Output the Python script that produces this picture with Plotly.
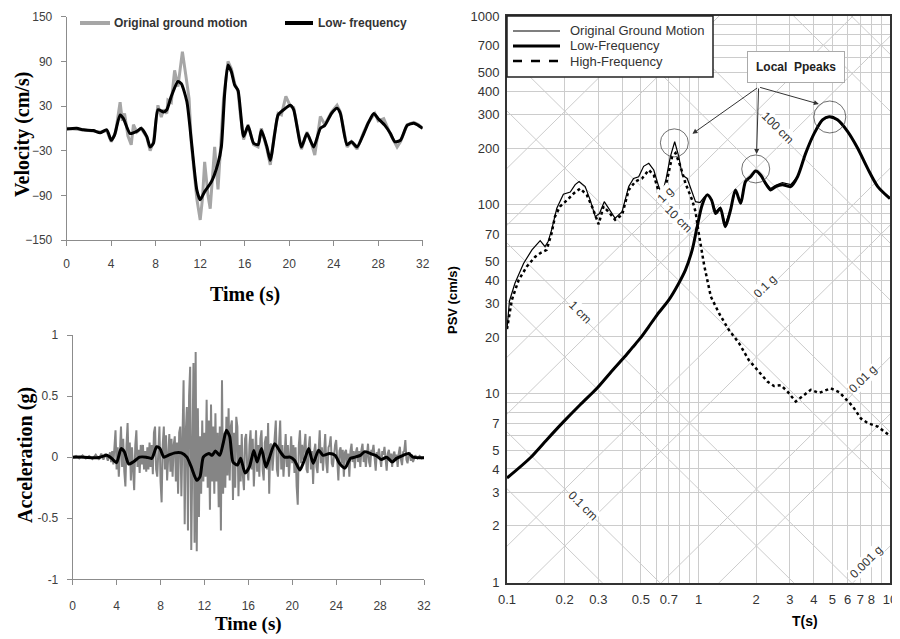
import math
import plotly.graph_objects as go

# ---------------- Velocity time history ----------------
vel_t_orig = [0, 1, 2, 3, 3.6, 4.0, 4.4, 4.8, 5.0, 5.2, 5.5, 5.8, 6.0, 6.3, 6.7, 7.2, 7.5, 7.8, 8.2, 8.5,
              8.7, 9.0, 9.1, 9.4, 9.7, 10.0, 10.4, 10.7, 11.0, 11.2, 11.5, 11.7, 12.0, 12.2, 12.4, 12.7,
              12.9, 13.1, 13.3, 13.6, 13.8, 14.1, 14.5, 14.8, 15.1, 15.4, 15.6, 15.9, 16.3, 16.8, 17.2,
              17.5, 18.0, 18.3, 18.7, 19.0, 19.3, 19.7, 20.1, 20.4, 21.1, 21.6, 22.0, 22.3, 22.8, 23.2,
              23.8, 24.3, 24.6, 25.2, 25.6, 26.1, 26.7, 27.1, 27.7, 28.0, 28.5, 29.1, 29.7, 30.0, 30.6,
              31.2, 31.6, 32]
vel_orig = [0, -1, -3, -5, -3, -18, -5, 35, 10, 20, -10, -22, 5, -5, 0, -12, -30, -18, 31, 15,
            25, 20, 38, 35, 78, 56, 103, 72, 40, -20, -70, -95, -123, -95, -45, -90,
            -108, -60, -25, -82, -30, 40, 90, 80, 60, 50, 20, -15, 5, -22, -25,
            0, -28, -49, -5, 20, 18, 43, 30, 28, -28, -5, -20, -36, 16, 5,
            22, 31, 22, -25, -18, -28, -5, 8, 20, 10, 13, -8, -25, -18, 5,
            8, 5, 0]

vel_t_low = [0, 0.9, 1.5, 2.4, 3.0, 3.6, 4.0, 4.3, 4.8, 5.1, 5.7, 6.3, 6.7, 7.2, 7.5, 7.8, 8.2, 8.7,
             9.0, 9.4, 10.0, 10.3, 10.8, 11.2, 11.7, 12.0, 12.4, 13.0, 13.6, 13.9, 14.2, 14.5, 14.8,
             15.1, 15.4, 15.9, 16.3, 16.8, 17.2, 17.5, 18.0, 18.3, 18.7, 19.0, 19.5, 20.1, 20.4, 21.1,
             21.6, 22.2, 22.8, 23.2, 23.8, 24.3, 24.6, 25.2, 25.6, 26.1, 26.7, 27.1, 27.6, 28.0, 28.6,
             29.1, 29.5, 30.0, 30.6, 31.2, 31.6, 32]
vel_low = [-1, 0, -2, -3, -6, -2, -16, -9, 18, 13, -7, -4, 0, -11, -25, -20, 25, 22,
           25, 43, 63, 60, 36, -16, -83, -96, -85, -72, -47, -25, 47, 85, 76,
           58, 51, -11, 3, -20, -22, -3, -25, -43, -7, 18, 25, 31, 25, -25,
           -7, -25, 0, 4, 20, 27, 20, -22, -18, -25, -7, 7, 20, 13, 4,
           -7, -18, -16, 4, 7, 4, 0]

# ---------------- Acceleration time history ----------------
acc_t_orig = [0, 0.3, 0.6, 0.9, 1.2, 1.5, 1.8, 2.1, 2.4, 2.6, 2.8, 3.0, 3.2, 3.4,
              3.5, 3.6, 3.7, 3.8, 3.9, 4.0, 4.1, 4.2, 4.3, 4.4, 4.5, 4.6, 4.7, 4.8, 4.9,
              5.0, 5.1, 5.2, 5.3, 5.4, 5.5, 5.6, 5.7, 5.8, 5.9, 6.0, 6.1, 6.2, 6.3, 6.4,
              6.5, 6.6, 6.7, 6.8, 6.9, 7.0, 7.1, 7.2, 7.3, 7.4, 7.5, 7.6, 7.7, 7.8, 7.9,
              8.0, 8.1, 8.2, 8.3, 8.4, 8.5, 8.6, 8.7, 8.8, 8.9, 9.0, 9.1, 9.2, 9.3, 9.4,
              9.5, 9.6, 9.7, 9.8, 9.9, 10.0, 10.1, 10.2, 10.3, 10.4, 10.5, 10.6, 10.7, 10.8, 10.9,
              11.0, 11.1, 11.2, 11.3, 11.4, 11.5, 11.6, 11.7, 11.8, 11.9, 12.0, 12.1, 12.2, 12.3, 12.4,
              12.5, 12.6, 12.7, 12.8, 12.9, 13.0, 13.1, 13.2, 13.3, 13.4, 13.5, 13.6, 13.7, 13.8, 13.9,
              14.0, 14.1, 14.2, 14.3, 14.4, 14.5, 14.6, 14.7, 14.8, 14.9, 15.0, 15.1, 15.2, 15.3, 15.4,
              15.5, 15.6, 15.7, 15.8, 15.9, 16.0, 16.1, 16.2, 16.3, 16.4, 16.5, 16.6, 16.7, 16.8, 16.9,
              17.0, 17.1, 17.2, 17.3, 17.4, 17.5, 17.6, 17.7, 17.8, 17.9, 18.0, 18.1, 18.2, 18.3, 18.4,
              18.5, 18.6, 18.7, 18.8, 18.9, 19.0, 19.1, 19.2, 19.3, 19.4, 19.5, 19.6, 19.7, 19.8, 19.9,
              20.0, 20.1, 20.2, 20.3, 20.4, 20.5, 20.6, 20.7, 20.8, 20.9, 21.0, 21.1, 21.2, 21.3, 21.4,
              21.5, 21.6, 21.7, 21.8, 21.9, 22.0, 22.1, 22.2, 22.3, 22.4, 22.5, 22.6, 22.7, 22.8, 22.9,
              23.0, 23.1, 23.2, 23.3, 23.4, 23.5, 23.6, 23.7, 23.8, 23.9, 24.0, 24.1, 24.2, 24.3, 24.4,
              24.5, 24.6, 24.7, 24.8, 24.9, 25.0, 25.1, 25.2, 25.3, 25.4, 25.5, 25.6, 25.7, 25.8, 25.9,
              26.0, 26.1, 26.2, 26.3, 26.4, 26.5, 26.6, 26.7, 26.8, 26.9, 27.0, 27.1, 27.2, 27.3, 27.4,
              27.5, 27.6, 27.7, 27.8, 27.9, 28.0, 28.1, 28.2, 28.3, 28.4, 28.5, 28.6, 28.7, 28.8, 28.9,
              29.0, 29.1, 29.2, 29.3, 29.4, 29.5, 29.6, 29.7, 29.8, 29.9, 30.0, 30.1, 30.2, 30.3, 30.4,
              30.5, 30.6, 30.7, 30.8, 30.9, 31.0, 31.2, 31.4, 31.6, 31.8, 32.0]
acc_orig = [0, 0.01, -0.01, 0.015, -0.01, 0.01, -0.015, 0.02, -0.02, 0.03, -0.02, 0.03, -0.03, 0.04,
            -0.04, 0.05, -0.06, 0.12, 0.22, -0.1, 0.08, -0.16, 0.1, 0.25, -0.08, 0.15, -0.12, -0.24, 0.1,
            0.28, -0.05, 0.12, -0.19, 0.08, -0.1, -0.27, 0.1, 0.22, -0.08, 0.06, -0.13, 0.1, -0.06, 0.1,
            -0.1, 0.05, -0.12, 0.08, -0.1, 0.12, -0.08, 0.1, -0.14, 0.2, 0.25, -0.1, -0.16, 0.15, 0.25,
            -0.2, -0.37, 0.1, 0.25, -0.1, 0.18, -0.19, 0.05, 0.19, -0.12, 0.15, -0.16, 0.1, 0.17, -0.2,
            0.12, -0.30, 0.2, 0.25, -0.32, 0.3, 0.63, -0.55, 0.2, 0.41, -0.6, 0.5, 0.74, -0.76, 0.3,
            0.77, -0.7, 0.86, -0.77, 0.4, -0.49, 0.17, -0.30, 0.30, -0.2, 0.2, -0.16, 0.47, -0.25, 0.3,
            -0.43, 0.43, -0.2, 0.25, -0.3, 0.36, -0.2, 0.2, -0.41, 0.25, -0.6, 0.63, -0.3, 0.2, -0.25,
            0.33, -0.15, 0.4, -0.19, 0.25, 0.30, -0.35, 0.2, -0.25, 0.33, 0.25, -0.32, 0.1, -0.2, 0.19,
            -0.15, -0.27, 0.15, 0.19, -0.1, -0.19, 0.1, 0.22, -0.1, 0.15, -0.24, 0.1, 0.22, -0.12, 0.1,
            -0.16, 0.15, 0.22, -0.1, -0.19, 0.12, 0.17, -0.1, 0.28, -0.3, 0.1, 0.11, -0.11, 0.05, 0.2,
            0.30, -0.1, -0.16, 0.12, 0.30, -0.1, 0.1, -0.16, 0.08, 0.19, -0.08, 0.1, -0.16, 0.05, 0.17,
            -0.05, 0.1, -0.13, 0.08, -0.24, -0.39, 0.1, 0.22, -0.05, 0.1, -0.02, 0.1, 0.19, -0.1, -0.13,
            0.08, 0.17, -0.1, 0.05, -0.22, 0.05, 0.11, -0.08, -0.13, 0.12, 0.22, -0.05, 0.08, -0.11, 0.1,
            0.19, -0.05, -0.13, 0.08, 0.1, 0.17, -0.05, -0.08, 0.05, 0.1, 0.14, -0.08, -0.19, 0.05, 0.08,
            -0.05, 0.06, -0.16, 0.04, 0.06, -0.08, 0.03, -0.16, 0.05, 0.11, -0.04, 0.05, -0.09, 0.04, 0.08,
            -0.04, 0.05, -0.08, 0.06, 0.11, -0.04, 0.05, -0.08, 0.05, 0.11, -0.04, -0.08, 0.06, 0.04, 0.10,
            -0.04, -0.11, 0.04, 0.02, 0.07, -0.03, -0.08, 0.05, 0.02, 0.085, -0.04, -0.11, 0.03, 0.06, -0.02,
            0.03, -0.08, 0.02, 0.045, -0.03, 0.02, -0.08, 0.03, 0.085, -0.02, -0.065, 0.04, 0.05, 0.14, -0.02,
            -0.05, 0.02, 0.04, -0.03, 0.02, -0.04, 0.015, -0.01, 0.01, -0.01, 0]

acc_t_low = [0, 1, 1.9, 2.5, 3.1, 3.55, 4.0, 4.4, 4.7, 5.1, 5.5, 6.1, 6.7, 7.2, 7.65, 7.95, 8.3, 8.7,
             9.3, 9.9, 10.4, 10.8, 11.3, 11.6, 11.9, 12.4, 12.7, 13.0, 13.4, 13.7, 14.0, 14.3, 14.6,
             15.0, 15.3, 15.7, 16.1, 16.5, 16.8, 17.2, 17.6, 17.9, 18.4, 18.9, 19.3, 19.8, 20.2, 20.7,
             21.2, 21.5, 21.9, 22.4, 22.8, 23.4, 23.9, 24.3, 24.8, 25.3, 25.7, 26.2, 26.6, 27.1, 27.7,
             28.1, 28.6, 29.1, 29.5, 30.1, 30.6, 31.0, 32]
acc_low = [0, 0, -0.005, 0, 0.015, -0.01, -0.045, 0.07, 0.045, -0.057, -0.04, 0, 0, -0.01, 0.085, 0.07,
           0, 0.015, 0.035, 0.035, 0, -0.08, -0.19, -0.16, 0, 0.03, 0.015, 0.05, 0.015, 0.11, 0.22,
           0.17, -0.04, -0.065, -0.01, -0.13, -0.08, 0.055, -0.04, 0.07, -0.08, -0.01, 0.11, 0.045, 0,
           0, -0.025, -0.105, 0, 0.07, -0.05, 0.057, 0.015, 0.03, 0.015, -0.05, -0.09, -0.01, 0, 0.015,
           0.045, 0.03, 0.01, -0.02, 0, -0.04, -0.01, 0.015, 0.03, 0, -0.005]

# ---------------- Pseudo-velocity spectra ----------------
psv_T_orig = [0.100, 0.103, 0.110, 0.122, 0.135, 0.149, 0.158, 0.164, 0.171, 0.182, 0.197, 0.214, 0.227,
              0.238, 0.256, 0.272, 0.289, 0.304, 0.322, 0.339, 0.367, 0.399, 0.432, 0.458, 0.487, 0.517,
              0.550, 0.584, 0.620, 0.645, 0.678, 0.713, 0.751, 0.789, 0.822, 0.873, 0.927, 0.965, 1.02,
              1.07, 1.11, 1.17, 1.23, 1.30, 1.38, 1.47, 1.56, 1.66, 1.76, 1.87, 1.99, 2.11, 2.24, 2.38,
              2.53, 2.74, 3.03, 3.29, 3.63, 4.02, 4.44, 4.81, 5.32, 6.0, 6.77, 7.64, 8.63, 10.0]
psv_orig = [22, 31, 38.5, 49, 57.8, 64.7, 60.1, 64, 73.8, 96, 114, 117, 128,
            133, 125, 106, 86.7, 90, 104, 96, 85, 92, 125, 138, 141, 160,
            166, 153, 125, 113, 138, 180, 216, 180, 144, 138, 115, 104, 103,
            110, 113, 107, 92, 97, 79, 95, 120, 103, 133, 141, 152, 145, 131, 122,
            127, 131, 128, 141, 188, 239, 282, 293, 282, 245, 200, 156, 125, 108]

psv_T_low = [0.100, 0.132, 0.161, 0.197, 0.241, 0.295, 0.346, 0.407, 0.450, 0.497, 0.550, 0.608, 0.700,
             0.789, 0.855, 0.927, 0.984, 1.045, 1.11, 1.17, 1.23, 1.30, 1.38, 1.47, 1.56, 1.66,
             1.76, 1.87, 1.99, 2.11, 2.24, 2.38, 2.53, 2.74, 3.03, 3.29, 3.63, 4.02, 4.44, 4.81, 5.32,
             6.00, 6.77, 7.64, 8.63, 10.0]
psv_low = [3.58, 4.57, 5.7, 7.1, 8.75, 10.7, 12.9, 15.5, 17.5, 19.7, 22.7, 26.2, 31.4,
           38.5, 45.3, 57.8, 76.7, 100, 113, 106, 90, 96, 76.7, 94, 120, 102,
           133, 141, 151, 144, 130, 120, 125, 128, 125, 141, 188, 239, 282, 293, 282,
           245, 200, 156, 125, 108]

psv_T_high = [0.100, 0.106, 0.115, 0.127, 0.140, 0.149, 0.161, 0.171, 0.178, 0.189, 0.206, 0.223, 0.241,
              0.261, 0.278, 0.301, 0.319, 0.339, 0.367, 0.399, 0.432, 0.468, 0.507, 0.550, 0.584, 0.620,
              0.645, 0.686, 0.728, 0.759, 0.805, 0.855, 0.927, 0.965, 1.00, 1.07, 1.16, 1.28, 1.44,
              1.63, 1.83, 2.07, 2.29, 2.48, 2.69, 2.91, 3.22, 3.49, 3.86, 4.26, 4.91, 5.43, 5.89,
              6.38, 7.05, 7.64, 8.63, 10.0]
psv_high = [22, 31.4, 40, 47.2, 53, 55.5, 57.8, 70.8, 86.7, 98, 106, 115, 122,
            113, 98, 79, 98, 92, 83.4, 88.5, 120, 133, 138, 153, 144, 117,
            108, 136, 180, 188, 160, 130, 106, 92, 72, 48, 32.7, 26.7, 21.8,
            18.5, 15.1, 13.1, 11.6, 11.0, 11.1, 10.3, 9.1, 9.7, 10.5, 10.1, 10.7, 10.2, 9.3,
            8.6, 7.4, 7.0, 6.7, 6.0]

# tripartite reference lines
disp_lines_cm = [0.05, 0.1, 0.5, 1, 5, 10, 50, 100, 500, 1000]
acc_lines_g = [0.001, 0.005, 0.01, 0.05, 0.1, 0.5, 1, 5, 10, 50]
G = 981.0

# local peaks (circled)
peak_T = [0.748, 1.99, 4.85]
peak_psv = [213, 155, 292]
peak_size = [28, 28, 32]

x_vals = [0.1, 0.2, 0.3, 0.4, 0.5, 0.6, 0.7, 0.8, 0.9, 1, 2, 3, 4, 5, 6, 7, 8, 9, 10]
x_text = ['0.1', '0.2', '0.3', '', '0.5', '', '0.7', '', '', '1', '2', '3', '4', '5', '6', '7', '8', '', '10']
y_vals = [1, 2, 3, 4, 5, 6, 7, 8, 9, 10, 20, 30, 40, 50, 60, 70, 80, 90,
          100, 200, 300, 400, 500, 600, 700, 800, 900, 1000]
y_show = {1, 2, 3, 4, 5, 7, 10, 20, 30, 40, 50, 70, 100, 200, 300, 400, 500, 700, 1000}
y_text = [str(v) if v in y_show else '' for v in y_vals]

# page body has an 8 px margin; the figure is sized to fill the rest of the window
OFF = 8
W, H = 900 - OFF, 639 - OFF
def px(x):
    return (x - OFF) / W
def py(y):
    return 1 - (y - OFF) / H

fig = go.Figure()

# ---- velocity ----
fig.add_trace(go.Scatter(x=vel_t_orig, y=vel_orig, mode='lines', name='Original ground motion',
                         line=dict(color='#a6a6a6', width=3), xaxis='x', yaxis='y'))
fig.add_trace(go.Scatter(x=vel_t_low, y=vel_low, mode='lines', name='Low- frequency',
                         line=dict(color='black', width=3, shape='spline', smoothing=0.6),
                         xaxis='x', yaxis='y'))
# ---- acceleration ----
fig.add_trace(go.Scatter(x=acc_t_orig, y=acc_orig, mode='lines',
                         line=dict(color='#858585', width=2), xaxis='x2', yaxis='y2'))
fig.add_trace(go.Scatter(x=acc_t_low, y=acc_low, mode='lines',
                         line=dict(color='black', width=3, shape='spline', smoothing=0.6),
                         xaxis='x2', yaxis='y2'))

# ---- tripartite diagonal grid ----
dx, dy = [], []
for d in disp_lines_cm:
    for T in (0.05, 20):
        dx.append(T); dy.append(2 * math.pi * d / T)
    dx.append(None); dy.append(None)
ax_, ay_ = [], []
for a in acc_lines_g:
    for T in (0.05, 20):
        ax_.append(T); ay_.append(a * G * T / (2 * math.pi))
    ax_.append(None); ay_.append(None)
for gx, gy in ((dx, dy), (ax_, ay_)):
    fig.add_trace(go.Scatter(x=gx, y=gy, mode='lines', hoverinfo='skip',
                             line=dict(color='#cccccc', width=1), xaxis='x3', yaxis='y3'))

fig.add_trace(go.Scatter(x=psv_T_orig, y=psv_orig, mode='lines', name='Original Ground Motion',
                         line=dict(color='black', width=1.2), xaxis='x3', yaxis='y3'))
fig.add_trace(go.Scatter(x=psv_T_low, y=psv_low, mode='lines', name='Low-Frequency',
                         line=dict(color='black', width=3, shape='spline', smoothing=0.8),
                         xaxis='x3', yaxis='y3'))
fig.add_trace(go.Scatter(x=psv_T_high, y=psv_high, mode='lines', name='High-Frequency',
                         line=dict(color='black', width=2.5, dash='dot'),
                         xaxis='x3', yaxis='y3'))
fig.add_trace(go.Scatter(x=peak_T, y=peak_psv, mode='markers', hoverinfo='skip',
                         marker=dict(symbol='circle-open', size=peak_size, color='#333',
                                     line=dict(width=1, color='#333')),
                         xaxis='x3', yaxis='y3'))

left_tick_font = dict(family='Liberation Sans, Arial', size=12, color='#404040')
axis_common = dict(showgrid=False, zeroline=False, showline=True, linecolor='#8c8c8c', linewidth=1,
                   ticks='outside', ticklen=5, tickcolor='#8c8c8c', tickfont=left_tick_font,
                   automargin=False)

psv_font = dict(family='Liberation Sans, Arial', size=13, color='#333')
psv_common = dict(showgrid=True, gridcolor='#cccccc', gridwidth=1, showline=True, mirror=True,
                  linecolor='#333', linewidth=2, ticks='', tickfont=psv_font, zeroline=False,
                  automargin=False)

fig.update_layout(
    width=W, height=H,
    margin=dict(l=0, r=0, t=0, b=0, autoexpand=False),
    paper_bgcolor='white', plot_bgcolor='white',
    showlegend=False,
    xaxis=dict(domain=[px(66.7), px(422.7)], range=[0, 32], tick0=0, dtick=4, anchor='y',
               ticklabelstandoff=8, **axis_common),
    yaxis=dict(domain=[py(240), py(16.7)], range=[-150, 150], tick0=-150, dtick=60, anchor='x',
               ticklabelstandoff=6, **axis_common),
    xaxis2=dict(domain=[px(72.7), px(424)], range=[0, 32], tick0=0, dtick=4, anchor='y2',
                ticklabelstandoff=10, **axis_common),
    yaxis2=dict(domain=[py(579.3), py(335)], range=[-1, 1], tickvals=[-1, -0.5, 0, 0.5, 1],
                ticktext=['-1', '-0.5', '0', '0.5', '1'], anchor='x2', ticklabelstandoff=6, **axis_common),
    xaxis3=dict(domain=[px(507), px(890)], type='log', range=[-1, 1], anchor='y3',
                tickvals=x_vals, ticktext=x_text, ticklabelstandoff=4, **psv_common),
    yaxis3=dict(domain=[py(582.7), py(16)], type='log', range=[0, 3], anchor='x3',
                tickvals=y_vals, ticktext=y_text, ticklabelstandoff=3, **psv_common),
)

shapes = []
ann = []

def paper_text(txt, x, y, font, angle=0, xanchor='center'):
    return dict(text=txt, x=px(x), y=py(y), xref='paper', yref='paper', textangle=angle,
                xanchor=xanchor, yanchor='middle', showarrow=False, font=font)

# ---- velocity legend (drawn manually) ----
leg_font = dict(family='Liberation Sans, Arial', size=12, color='#333', weight='bold')
shapes.append(dict(type='line', xref='paper', yref='paper', x0=px(80), x1=px(110), y0=py(23), y1=py(23),
                   line=dict(color='#a6a6a6', width=4)))
ann.append(paper_text('Original ground motion', 112, 23, leg_font, xanchor='left'))
shapes.append(dict(type='line', xref='paper', yref='paper', x0=px(285), x1=px(313), y0=py(23), y1=py(23),
                   line=dict(color='black', width=4)))
ann.append(paper_text('Low- frequency', 316, 23, leg_font, xanchor='left'))

# ---- PSV legend (drawn manually) ----
shapes.append(dict(type='rect', xref='paper', yref='paper', x0=px(507), x1=px(713), y0=py(77), y1=py(16),
                   fillcolor='white', line=dict(color='#222', width=1.5)))
psv_leg = [('Original Ground Motion', 31, 1.2, 'solid'), ('Low-Frequency', 46, 3, 'solid'),
           ('High-Frequency', 61, 2.5, 'dash')]
leg2_font = dict(family='Liberation Sans, Arial', size=13, color='#333')
for txt, yy, lw, dash in psv_leg:
    shapes.append(dict(type='line', xref='paper', yref='paper', x0=px(513), x1=px(560), y0=py(yy), y1=py(yy),
                       line=dict(color='black', width=lw, dash=dash)))
    ann.append(paper_text(txt, 568, yy, leg2_font, xanchor='left'))

serif_bold = dict(family='Liberation Serif, Times New Roman', size=20, color='black', weight='bold')
ann.append(paper_text('Velocity (cm/s)', 22, 135, serif_bold, angle=-90))
ann.append(paper_text('Time (s)', 245, 295, serif_bold))
ann.append(paper_text('Acceleration (g)', 25, 455, serif_bold, angle=-90))
ann.append(paper_text('Time (s)', 248, 624, dict(serif_bold, size=19)))
ann.append(paper_text('PSV (cm/s)', 453, 300,
                      dict(family='Liberation Sans, Arial', size=13, color='black', weight='bold'), angle=-90))
ann.append(paper_text('T(s)', 805, 621, dict(family='Liberation Sans, Arial', size=14, color='black', weight='bold')))

diag_font = dict(family='Liberation Sans, Arial', size=12, color='#333')
diag_labels = [('0.1 cm', 0.25, 2.55, 45), ('1 cm', 0.24, 27, 45), ('10 cm', 0.786, 84, 45),
               ('100 cm', 2.6, 255, 45), ('0.1 g', 2.24, 37, -45), ('0.01 g', 7.2, 12, -45),
               ('0.001 g', 7.5, 1.29, -45), ('1 g', 0.67, 113, -45)]
for txt, T, P, ang in diag_labels:
    ann.append(dict(text=txt, x=math.log10(T), y=math.log10(P), xref='x3', yref='y3', showarrow=False,
                    xanchor='center', yanchor='middle',
                    textangle=ang, font=diag_font, bgcolor='white', borderpad=0))

ann.append(dict(text='<b>Local  Ppeaks</b>', x=math.log10(3.22), y=math.log10(537), xref='x3', yref='y3',
                xanchor='center', yanchor='middle',
                showarrow=False, bgcolor='white', bordercolor='#aaa', borderwidth=1, borderpad=8,
                font=dict(family='Liberation Sans, Arial', size=12, color='#222')))
tail_T, tail_P = 2.06, 421
for hT, hP in ((0.93, 238), (2.01, 186), (4.25, 342)):
    ann.append(dict(text='', x=math.log10(hT), y=math.log10(hP), xref='x3', yref='y3',
                    ax=math.log10(tail_T), ay=math.log10(tail_P), axref='x3', ayref='y3',
                    showarrow=True, arrowhead=2, arrowsize=1, arrowwidth=1, arrowcolor='#333'))

fig.update_layout(shapes=shapes, annotations=ann)
fig.write_html('out.html')
